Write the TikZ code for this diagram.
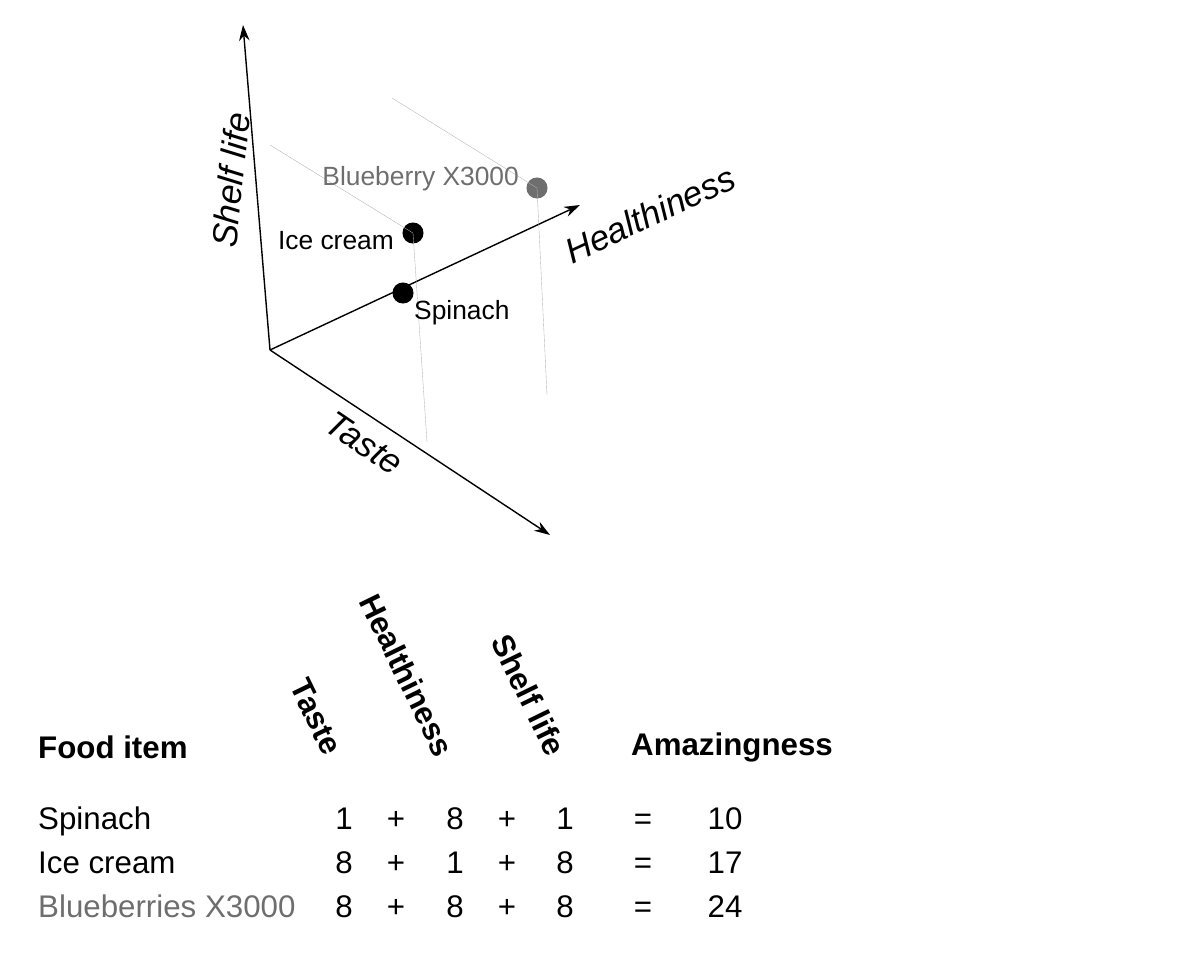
\documentclass[tikz,border=0pt]{standalone}
\usepackage{fontspec}
\setmainfont{Liberation Sans}
\usetikzlibrary{arrows.meta}
\definecolor{fadegray}{RGB}{110,110,110}
\tikzset{
  axis/.style={thick, -{Stealth[length=9pt,width=6pt]}},
  guide/.style={gray!60, very thin},
  dot/.style={circle, fill=black, inner sep=0pt, minimum size=12pt},
  axlabel/.style={font=\fontsize{20}{24}\selectfont\itshape},
  txt/.style={font=\fontsize{17.8}{21}\selectfont, text height=12pt, text depth=3pt},
  head/.style={font=\fontsize{17.8}{21}\selectfont\bfseries},
}
\begin{document}
\begin{tikzpicture}[x=0.02cm, y=-0.02cm]
  \useasboundingbox (0,0) rectangle (1200,959);
  % axes
  \coordinate (o) at (270,350);
  \coordinate (shelf) at (243,25);
  \coordinate (health) at (580,205);
  \coordinate (taste) at (550,535);
  \draw[axis] (o) -- (shelf);
  \draw[axis] (o) -- (health);
  \draw[axis] (o) -- (taste);
  \node[axlabel, rotate=84] (lshelf) at (231,180) {Shelf life};
  \node[axlabel, rotate=25] (lhealth) at (650,214) {Healthiness};
  \node[axlabel, rotate=-34] (ltaste) at (364,443) {Taste};
  % items
  \coordinate (g1) at (270,145);
  \coordinate (g2) at (427,442);
  \coordinate (g3) at (392,98);
  \coordinate (g4) at (547,395);
  \node[dot] (ice) at (413,233) {};
  \node[dot] (spin) at (403,293) {};
  \node[dot, fill=fadegray] (blue) at (537,188) {};
  \draw[guide] (g1) -- (ice.center) -- (g2);
  \draw[guide] (g3) -- (blue.center) -- (g4);
  \node[txt, anchor=east, font=\fontsize{15}{18}\selectfont] (lice) at (400,242) {Ice cream};
  \node[txt, anchor=west, font=\fontsize{15}{18}\selectfont] (lspin) at (408,312) {Spinach};
  \node[txt, anchor=east, text=fadegray, font=\fontsize{15}{18}\selectfont] (lblue) at (525,178) {Blueberry X3000};
  % table
  \node[head, anchor=west] (hfood) at (32,747) {Food item};
  \node[head, rotate=-64] (htaste) at (316,717) {Taste};
  \node[head, rotate=-64] (hhealth) at (407,675) {Healthiness};
  \node[head, rotate=-64] (hshelf) at (529,695) {Shelf life};
  \node[head, anchor=west] (hamaz) at (625,747) {Amazingness};
  \foreach \y/\name/\a/\b/\c/\r/\col in {822/Spinach/1/8/1/10/black,
      866/Ice cream/8/1/8/17/black,
      910/Blueberries X3000/8/8/8/24/fadegray}{
    \begin{scope}[every node/.style={txt}]
      \node[anchor=west, text=\col] at (32,\y) {\name};
      \node at (344,\y) {\a};
      \node at (396,\y) {+};
      \node at (455,\y) {\b};
      \node at (507,\y) {+};
      \node at (565,\y) {\c};
      \node at (643,\y) {=};
      \node at (725,\y) {\r};
    \end{scope}
  }
\end{tikzpicture}
\end{document}
